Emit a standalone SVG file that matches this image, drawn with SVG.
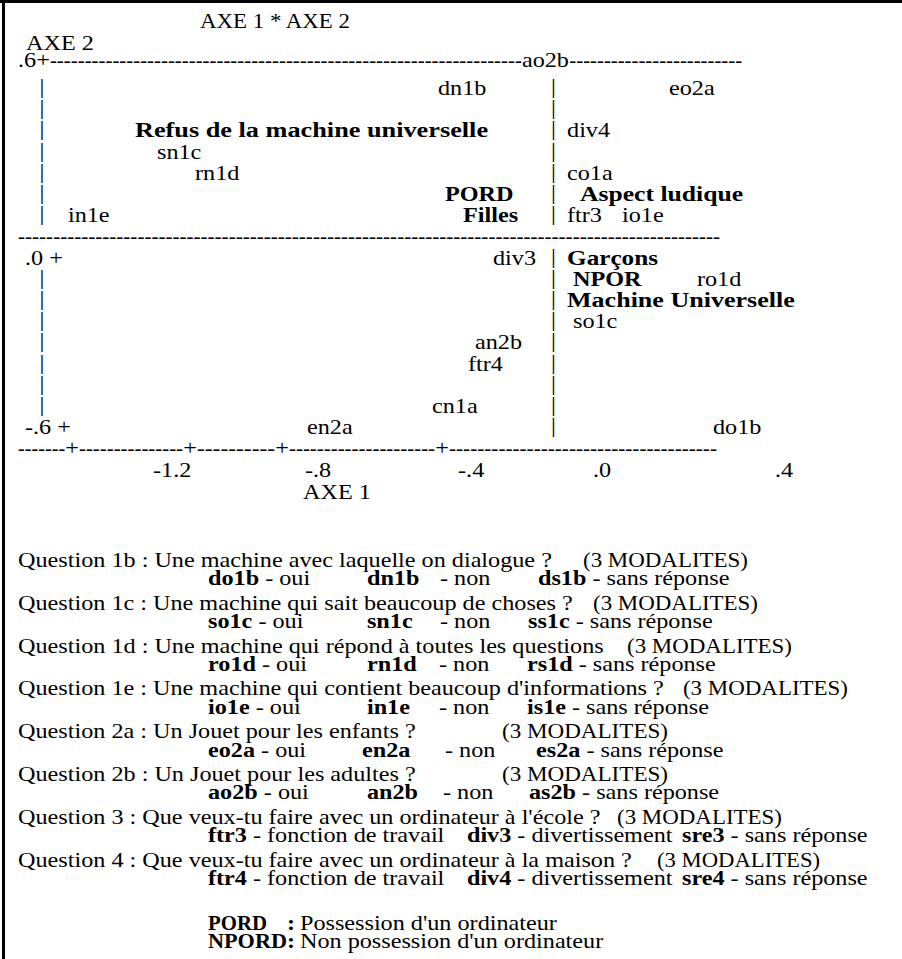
<svg xmlns="http://www.w3.org/2000/svg" width="902" height="959" viewBox="0 0 902 959">
<style>
.t{font-family:"Liberation Serif","Times New Roman",serif;font-size:22px;fill:#000}
.b{font-weight:bold}
.m{text-anchor:middle}
.frame{stroke:#000;stroke-width:3;fill:none}
</style>
<rect width="902" height="959" fill="#fff"/>
<g id="frame">
<line class="frame" x1="0" y1="1.5" x2="902" y2="1.5"/>
<line class="frame" x1="3.5" y1="0" x2="3.5" y2="959"/>
</g>
<g transform="scale(1.1 1)">
<g id="plot-axes" class="t">
<text x="181.8" y="28" textLength="136.4" lengthAdjust="spacingAndGlyphs">AXE 1 * AXE 2</text>
<text x="23.6" y="50">AXE 2</text>
<text x="16.4" y="67.5">.6+</text>
<text x="45.4" y="67.5" textLength="429" lengthAdjust="spacingAndGlyphs">--------------------------------------------------------------------</text>
<text x="517.6" y="67.5" textLength="157" lengthAdjust="spacingAndGlyphs">-------------------------</text>
<text x="16.4" y="243.4" textLength="638.2" lengthAdjust="spacingAndGlyphs">----------------------------------------------------------------------------------------------------</text>
<text x="22.7" y="264.6">.0 +</text>
<text x="22.7" y="434.2">-.6 +</text>
<text x="16.4" y="455.4" textLength="42.8" lengthAdjust="spacingAndGlyphs">-------</text>
<text x="65.5" y="455.4" class="m">+</text>
<text x="71.8" y="455.4" textLength="94.6" lengthAdjust="spacingAndGlyphs">---------------</text>
<text x="172.7" y="455.4" class="m">+</text>
<text x="179.1" y="455.4" textLength="71" lengthAdjust="spacingAndGlyphs">----------</text>
<text x="256.4" y="455.4" class="m">+</text>
<text x="262.7" y="455.4" textLength="132.8" lengthAdjust="spacingAndGlyphs">---------------------</text>
<text x="401.8" y="455.4" class="m">+</text>
<text x="408.2" y="455.4" textLength="243.6" lengthAdjust="spacingAndGlyphs">--------------------------------------</text>
<text x="139.1" y="477">-1.2</text>
<text x="277.3" y="477">-.8</text>
<text x="416.4" y="477">-.4</text>
<text x="539.1" y="477">.0</text>
<text x="704.5" y="477">.4</text>
<text x="275.5" y="499">AXE 1</text>
</g>
<g id="plot-bars" class="t m">
<text x="38.2" y="93">|</text><text x="503.2" y="93">|</text>
<text x="38.2" y="114.2">|</text><text x="503.2" y="114.2">|</text>
<text x="38.2" y="135.4">|</text><text x="503.2" y="135.4">|</text>
<text x="38.2" y="156.6">|</text><text x="503.2" y="156.6">|</text>
<text x="38.2" y="177.8">|</text><text x="503.2" y="177.8">|</text>
<text x="38.2" y="199">|</text><text x="503.2" y="199">|</text>
<text x="38.2" y="220.2">|</text><text x="503.2" y="220.2">|</text>
<text x="503.2" y="262.6">|</text>
<text x="38.2" y="283.8">|</text><text x="503.2" y="283.8">|</text>
<text x="38.2" y="305">|</text><text x="503.2" y="305">|</text>
<text x="38.2" y="326.2">|</text><text x="503.2" y="326.2">|</text>
<text x="38.2" y="347.4">|</text><text x="503.2" y="347.4">|</text>
<text x="38.2" y="368.6">|</text><text x="503.2" y="368.6">|</text>
<text x="38.2" y="389.8">|</text><text x="503.2" y="389.8">|</text>
<text x="38.2" y="411">|</text><text x="503.2" y="411">|</text>
<text x="503.2" y="432.2">|</text>
</g>
<g id="plot-points" class="t">
<text x="474.5" y="67.5">ao2b</text>
<text x="398.2" y="95">dn1b</text>
<text x="608.2" y="95">eo2a</text>
<text x="122.7" y="137.4" class="b" textLength="321" lengthAdjust="spacingAndGlyphs">Refus de la machine universelle</text>
<text x="515.5" y="137.4">div4</text>
<text x="142.7" y="158.6">sn1c</text>
<text x="177.3" y="179.8">rn1d</text>
<text x="515.5" y="179.8">co1a</text>
<text x="404.5" y="201" class="b">PORD</text>
<text x="527.3" y="201" class="b" textLength="148.2" lengthAdjust="spacingAndGlyphs">Aspect ludique</text>
<text x="61.8" y="222.2">in1e</text>
<text x="420.9" y="222.2" class="b">Filles</text>
<text x="515.5" y="222.2">ftr3</text>
<text x="565.5" y="222.2">io1e</text>
<text x="448.2" y="264.6">div3</text>
<text x="515.5" y="264.6" class="b" textLength="82.7" lengthAdjust="spacingAndGlyphs">Garçons</text>
<text x="520.9" y="285.8" class="b">NPOR</text>
<text x="633.6" y="285.8">ro1d</text>
<text x="515.5" y="307" class="b" textLength="207" lengthAdjust="spacingAndGlyphs">Machine Universelle</text>
<text x="520.9" y="328.2">so1c</text>
<text x="431.8" y="349.4">an2b</text>
<text x="425.5" y="370.6">ftr4</text>
<text x="392.7" y="413">cn1a</text>
<text x="279.1" y="434.2">en2a</text>
<text x="648.2" y="434.2">do1b</text>
</g>
<g id="legend" class="t">
<text x="16.4" y="567">Question 1b : Une machine avec laquelle on dialogue ?</text>
<text x="530" y="567" textLength="150" lengthAdjust="spacingAndGlyphs">(3 MODALITES)</text>
<text x="189.1" y="585.5"><tspan class="b">do1b</tspan> - oui</text>
<text x="333.6" y="585.5" class="b">dn1b</text>
<text x="400" y="585.5">- non</text>
<text x="489.1" y="585.5"><tspan class="b">ds1b</tspan> - sans réponse</text>

<text x="16.4" y="609.8">Question 1c : Une machine qui sait beaucoup de choses ?</text>
<text x="539.1" y="609.8" textLength="150" lengthAdjust="spacingAndGlyphs">(3 MODALITES)</text>
<text x="189.1" y="628.3"><tspan class="b">so1c</tspan> - oui</text>
<text x="333.6" y="628.3" class="b">sn1c</text>
<text x="400" y="628.3">- non</text>
<text x="480" y="628.3"><tspan class="b">ss1c</tspan> - sans réponse</text>

<text x="16.4" y="652.6">Question 1d : Une machine qui répond à toutes les questions</text>
<text x="570" y="652.6" textLength="150" lengthAdjust="spacingAndGlyphs">(3 MODALITES)</text>
<text x="189.1" y="671.1"><tspan class="b">ro1d</tspan> - oui</text>
<text x="333.6" y="671.1" class="b">rn1d</text>
<text x="399.1" y="671.1">- non</text>
<text x="479.1" y="671.1"><tspan class="b">rs1d</tspan> - sans réponse</text>

<text x="16.4" y="695.4">Question 1e : Une machine qui contient beaucoup d'informations ?</text>
<text x="620.9" y="695.4" textLength="150" lengthAdjust="spacingAndGlyphs">(3 MODALITES)</text>
<text x="189.1" y="713.9"><tspan class="b">io1e</tspan> - oui</text>
<text x="333.6" y="713.9" class="b">in1e</text>
<text x="399.1" y="713.9">- non</text>
<text x="479.1" y="713.9"><tspan class="b">is1e</tspan> - sans réponse</text>

<text x="16.4" y="738.2">Question 2a : Un Jouet pour les enfants ?</text>
<text x="456.4" y="738.2" textLength="150.9" lengthAdjust="spacingAndGlyphs">(3 MODALITES)</text>
<text x="189.1" y="756.7"><tspan class="b">eo2a</tspan> - oui</text>
<text x="329.1" y="756.7" class="b">en2a</text>
<text x="404.5" y="756.7">- non</text>
<text x="487.3" y="756.7"><tspan class="b">es2a</tspan> - sans réponse</text>

<text x="16.4" y="781">Question 2b : Un Jouet pour les adultes ?</text>
<text x="456.4" y="781" textLength="150.9" lengthAdjust="spacingAndGlyphs">(3 MODALITES)</text>
<text x="189.1" y="799.5"><tspan class="b">ao2b</tspan> - oui</text>
<text x="333.6" y="799.5" class="b">an2b</text>
<text x="402.7" y="799.5">- non</text>
<text x="480.9" y="799.5"><tspan class="b">as2b</tspan> - sans réponse</text>

<text x="16.4" y="823.8">Question 3 : Que veux-tu faire avec un ordinateur à l'école ?</text>
<text x="560.9" y="823.8" textLength="150" lengthAdjust="spacingAndGlyphs">(3 MODALITES)</text>
<text x="189.1" y="842.3"><tspan class="b">ftr3</tspan> - fonction de travail</text>
<text x="424.5" y="842.3"><tspan class="b">div3</tspan> - divertissement</text>
<text x="620" y="842.3"><tspan class="b">sre3</tspan> - sans réponse</text>

<text x="16.4" y="866.6">Question 4 : Que veux-tu faire avec un ordinateur à la maison ?</text>
<text x="597.3" y="866.6" textLength="148.2" lengthAdjust="spacingAndGlyphs">(3 MODALITES)</text>
<text x="189.1" y="885.1"><tspan class="b">ftr4</tspan> - fonction de travail</text>
<text x="424.5" y="885.1"><tspan class="b">div4</tspan> - divertissement</text>
<text x="620" y="885.1"><tspan class="b">sre4</tspan> - sans réponse</text>

<text x="189.1" y="930" class="b" textLength="53.6" lengthAdjust="spacingAndGlyphs">PORD</text>
<text x="261" y="930" class="b">:</text>
<text x="272.7" y="930">Possession d'un ordinateur</text>
<text x="189.1" y="948" class="b" textLength="71.8" lengthAdjust="spacingAndGlyphs">NPORD</text>
<text x="261" y="948" class="b">:</text>
<text x="272.7" y="948">Non possession d'un ordinateur</text>
</g>
</g>
</svg>
